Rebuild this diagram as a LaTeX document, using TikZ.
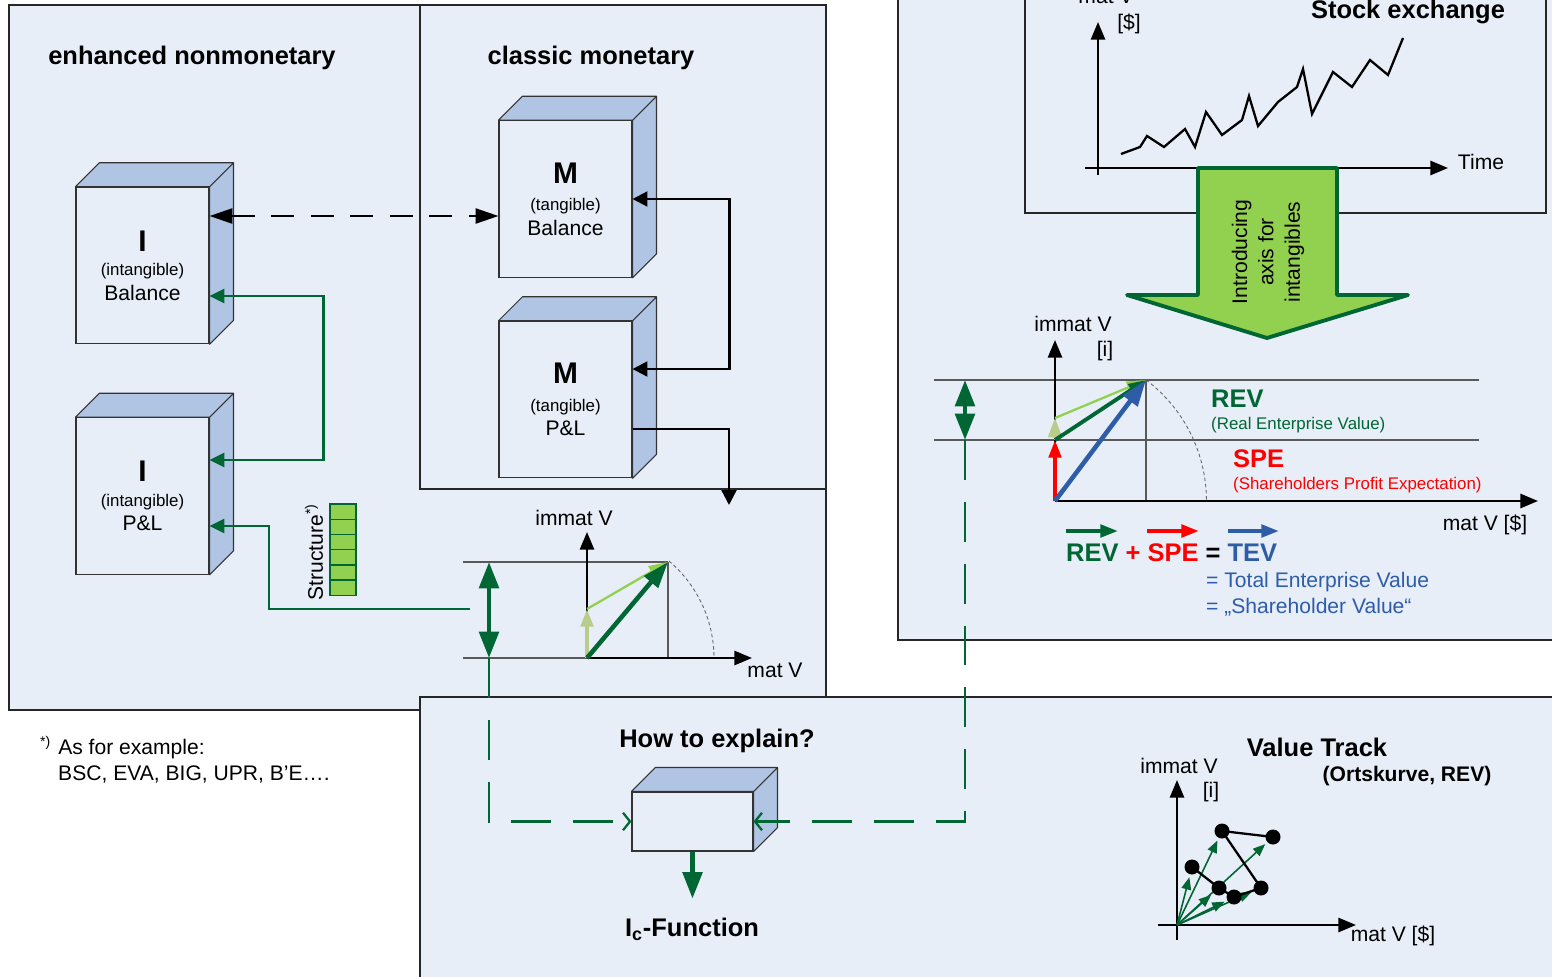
\documentclass[tikz,border=0pt]{standalone}
\usepackage{fontspec}
\setmainfont{Liberation Sans}
\usepackage{xcolor}
\usepackage{tikz}
\usetikzlibrary{shapes,arrows,arrows.meta,positioning,calc}

\definecolor{panelbg}{RGB}{232,238,248}
\definecolor{cubeside}{RGB}{176,196,228}
\definecolor{darkgreen}{RGB}{0,102,51}
\definecolor{lightgreen}{RGB}{146,208,80}
\definecolor{palegreen}{RGB}{184,204,140}
\definecolor{tevblue}{RGB}{46,93,168}

% top and right face of a box node
\newcommand{\cubeshade}[1]{%
  \path[draw=black!80, fill=cubeside, line width=0.6pt, line join=round]
    (#1.north west) -- ++(24,-24) -- ([shift={(24,-24)}]#1.north east) -- (#1.north east) -- cycle
    (#1.north east) -- ([shift={(24,-24)}]#1.north east) -- ([shift={(24,-24)}]#1.south east) -- (#1.south east) -- cycle;
}

\begin{document}
\begin{tikzpicture}[x=0.02cm, y=-0.02cm, font=\fontsize{12}{14}\selectfont,
    panel/.style={draw=black!85, line width=1.1pt, fill=panelbg},
    frontface/.style={draw=black!80, line width=0.6pt, fill=panelbg, inner sep=0pt, align=center},
    tallbox/.style={minimum width=2.66cm, minimum height=3.13cm},
    title/.style={font=\fontsize{14.5}{17}\selectfont\bfseries},
    small/.style={font=\fontsize{9.6}{11}\selectfont},
    blacklink/.style={line width=1.3pt, {Triangle[length=8.5pt,width=8.5pt]}-{Triangle[length=8.5pt,width=8.5pt]}},
    blackarrow/.style={line width=1.3pt, -{Triangle[length=8.5pt,width=8.5pt]}},
    dashlink/.style={line width=1.4pt, dash pattern=on 13pt off 9.5pt, {Triangle[length=13pt,width=8.5pt]}-{Triangle[length=13pt,width=8.5pt]}},
    greenlink/.style={draw=darkgreen, line width=1.4pt, {Triangle[length=8.5pt,width=8pt]}-{Triangle[length=8.5pt,width=8pt]}},
    greenarrow/.style={draw=darkgreen, line width=1.4pt, -{Triangle[length=8.5pt,width=8pt]}},
    greendash/.style={draw=darkgreen, line width=1.3pt, dash pattern=on 22.7pt off 12.5pt, -{Straight Barb[length=4pt,width=10pt]}},
    guide/.style={draw=black!65, line width=0.6pt},
    arcline/.style={draw=black!60, line width=0.5pt, dash pattern=on 2pt off 1.5pt},
    axis/.style={line width=1.4pt, -{Triangle[length=10pt,width=8pt]}},
    dblarrow/.style={draw=darkgreen, line width=2.6pt, {Triangle[length=15pt,width=11pt]}-{Triangle[length=15pt,width=11pt]}},
    vec/.style={line width=2.6pt, -{Triangle[length=15pt,width=10pt]}},
    thinvec/.style={line width=1.3pt, -{Triangle[length=11pt,width=7pt]}},
    shortvec/.style={line width=2.2pt, -{Triangle[length=10pt,width=7pt]}},
    trackvec/.style={draw=darkgreen, line width=0.9pt, shorten >=6pt, -{Triangle[length=7pt,width=5.5pt]}},
    cell/.style={draw=darkgreen, fill=lightgreen, line width=0.8pt, minimum width=0.52cm, minimum height=0.304cm, inner sep=0pt}]
  \useasboundingbox (0,0) rectangle (1552,977);
  \clip (0,0) rectangle (1552,977);

  % panels
  \draw[panel] (9,5) rectangle (826,710);
  \draw[panel] (420,5) rectangle (826,489);
  \draw[panel] (898,-20) rectangle (1580,640);
  \draw[panel] (1025,-20) rectangle (1546,213);
  \draw[panel] (420,697) rectangle (1580,1000);

  \node[title] (tEnh) at (192,58) {enhanced nonmonetary};
  \node[title] (tCls) at (591,58) {classic monetary};

  % balance and P&L boxes
  \node[frontface, tallbox] (IBal) at (142.5,265.5)
    {{\fontsize{17}{18}\selectfont\bfseries I}\\[0pt]{\fontsize{9.6}{11}\selectfont (intangible)}\\Balance};
  \node[frontface, tallbox, below=1.46cm of IBal] (IPL)
    {{\fontsize{17}{18}\selectfont\bfseries I}\\[0pt]{\fontsize{9.6}{11}\selectfont (intangible)}\\P\&L};
  \node[frontface, tallbox] (MBal) at (565.5,199)
    {{\fontsize{17}{18}\selectfont\bfseries M}\\[1.5pt]{\fontsize{9.6}{11}\selectfont (tangible)}\\Balance};
  \node[frontface, tallbox, below=0.86cm of MBal] (MPL)
    {{\fontsize{17}{18}\selectfont\bfseries M}\\[1.5pt]{\fontsize{9.6}{11}\selectfont (tangible)}\\P\&L};
  \cubeshade{IBal}
  \cubeshade{IPL}
  \cubeshade{MBal}
  \cubeshade{MPL}

  \draw[dashlink] ([yshift=0.99cm]IBal.east) -- ([yshift=0.99cm]IBal.east -| MBal.west);
  \draw[blacklink] (MBal.east) -- ++(97,0) |- ([yshift=0.61cm]MPL.east);
  \coordinate (mplOut) at (729,505);
  \draw[blackarrow] ([yshift=-0.59cm]MPL.east) -| (mplOut);
  \draw[greenlink] ([yshift=-0.61cm]IBal.east) -- ++(114,0) |- ([yshift=0.72cm]IPL.east);
  \coordinate (gStart) at (470,609);
  \draw[greenarrow] (gStart) -- ++(-201,0) |- ([yshift=-0.6cm]IPL.east);

  % structure column
  \foreach \k in {0,...,5}
    \node[cell] (cell\k) at (343,{511.6+15.2*\k}) {};
  \node[rotate=90] (lblStruct) at (314,552) {Structure\textsuperscript{*)}};

  % small value diagram
  \coordinate (oA) at (587,658);
  \coordinate (pA) at (668,562);
  \coordinate (qA) at (587,609);
  \draw[guide] (463,562) -- (pA);
  \draw[guide] (463,658) -- (oA);
  \draw[guide] (pA) -- (pA |- oA);
  \draw[arcline] (oA) ++(49.8:2.54cm) arc[start angle=49.8, end angle=0, radius=2.54cm];
  \draw[axis] (oA) -- (752,658);
  \draw[axis] (oA) -- (587,532);
  \draw[shortvec, palegreen] (oA) -- (qA);
  \draw[thinvec, lightgreen] (qA) -- (pA);
  \draw[vec, darkgreen] (oA) -- (pA);
  \node (lblImA) at (574,518) {immat V};
  \node (lblMatA) at (775,670) {mat V};
  \coordinate (dlTop) at (489,562);
  \coordinate (dlBot) at (489,658);
  \draw[dblarrow] (dlTop) -- (dlBot);

  % stock exchange chart
  \node[title] (tStock) at (1408,12) {Stock exchange};
  \draw[axis] (1085,168) -- (1448,168);
  \draw[axis] (1098,175) -- (1098,22);
  \node (lblMatS) at (1106,-4) {mat V};
  \node (lblDol) at (1129,24) {[\$]};
  \node (lblTime) at (1481,162) {Time};
  \draw[line width=1.3pt, line join=miter] plot coordinates {(1121,154) (1140,147) (1147,136) (1164,147) (1185,129) (1195,147) (1206,112) (1222,135) (1242,120) (1249,96) (1258,126) (1278,102) (1297,87) (1303,69) (1312,114) (1333,72) (1352,87) (1370,60) (1388,75) (1403,38)};

  % big arrow
  \draw[fill=lightgreen, draw=darkgreen, line width=2.2pt, line join=round]
    (1198,168) -- (1337,168) -- (1337,295) -- (1408,295) -- (1267,338) -- (1127,295) -- (1198,295) -- cycle;
  \node[rotate=90, align=center, font=\fontsize{12}{15}\selectfont] (lblIntro) at (1268,252) {Introducing\\axis for\\intangibles};

  % value diagram with intangibles axis
  \coordinate (oB) at (1055,501);
  \coordinate (pB) at (1146,380);
  \coordinate (sB) at (1055,440);
  \coordinate (rB) at (1055,418);
  \draw[guide] (934,380) -- (1479,380);
  \draw[guide] (934,440) -- (1479,440);
  \draw[guide] (pB) -- (pB |- oB);
  \draw[arcline] (oB) ++(53.05:3.03cm) arc[start angle=53.05, end angle=0, radius=3.03cm];
  \draw[axis] (oB) -- (1538,501);
  \draw[axis] (oB) -- (1055,340);
  \draw[shortvec, red] (oB) -- (sB);
  \draw[line width=1pt, palegreen, -{Triangle[length=11pt,width=8pt]}] (sB) -- (rB);
  \draw[thinvec, lightgreen] (rB) -- (pB);
  \draw[shortvec, darkgreen] (sB) -- (pB);
  \draw[vec, tevblue] (oB) -- (pB);
  \node (lblImB) at (1073,324) {immat V};
  \node (lblI) at (1105,351) {[i]};
  \node (lblMatB) at (1485,525) {mat V [\$]};
  \coordinate (drTop) at (965,380);
  \coordinate (drBot) at (965,440);
  \draw[dblarrow] (drTop) -- (drBot);

  \node[title, darkgreen, anchor=west] (lblREV) at (1205,399) {REV};
  \node[small, darkgreen, anchor=west] (lblREVl) at (1205,425) {(Real Enterprise Value)};
  \node[title, red, anchor=west] (lblSPE) at (1227,459) {SPE};
  \node[small, red, anchor=west] (lblSPEl) at (1227,485) {(Shareholders Profit Expectation)};

  \draw[shortvec, darkgreen] (1066,531) -- (1118,531);
  \draw[shortvec, red] (1147,531) -- (1199,531);
  \draw[shortvec, tevblue] (1228,531) -- (1279,531);
  \node[title, anchor=west] (lblSum) at (1060,553)
    {\color{darkgreen}REV \color{red}+ SPE \color{black}= \color{tevblue}TEV};
  \node[tevblue, anchor=west] (lblTEV) at (1200,582) {= Total Enterprise Value};
  \node[tevblue, anchor=west] (lblSHV) at (1200,607) {= „Shareholder Value“};

  % explanation box
  \node[title] (tHow) at (717,741) {How to explain?};
  \node[frontface, minimum width=2.42cm, minimum height=1.18cm] (Explain) at (692.5,821.5) {};
  \cubeshade{Explain}
  \draw[greendash] (dlBot) |- (Explain.west);
  \draw[greendash] (drBot) |- (Explain.east);
  \draw[draw=darkgreen, line width=2.5pt, -{Triangle[length=15pt,width=11pt]}] (Explain.south) -- ++(0,47);
  \node[title] (tIc) at (692,929) {I\textsubscript{c}-Function};

  % value track
  \node[title] (tTrack) at (1317,747) {Value Track};
  \node[font=\fontsize{12}{14}\selectfont\bfseries] (tOrts) at (1407,776) {(Ortskurve, REV)};
  \coordinate (oC) at (1177,925);
  \draw[axis] (1177,940) -- (1177,780);
  \draw[axis] (1158,925) -- (1356,925);
  \node (lblImC) at (1179,766) {immat V};
  \node (lblIC) at (1211,792) {[i]};
  \node (lblMatC) at (1393,936) {mat V [\$]};
  \foreach \px/\py [count=\i] in {1192/867, 1219/888, 1234/897, 1261/888, 1222/831, 1273/837}
    \coordinate (vt\i) at (\px,\py);
  \foreach \i in {1,...,6}
    \draw[trackvec] (oC) -- (vt\i);
  \draw[line width=1.3pt] (vt1) -- (vt2) -- (vt3) -- (vt4) -- (vt5) -- (vt6);
  \foreach \i in {1,...,6}
    \fill (vt\i) circle[radius=0.15cm];

  % footnote
  \node[anchor=base west] (fnA) at (34,754) {\textsuperscript{*)}\hspace{4pt}As for example:};
  \node[anchor=base west] (fnB) at (52,780) {BSC, EVA, BIG, UPR, B’E….};
\end{tikzpicture}
\end{document}
